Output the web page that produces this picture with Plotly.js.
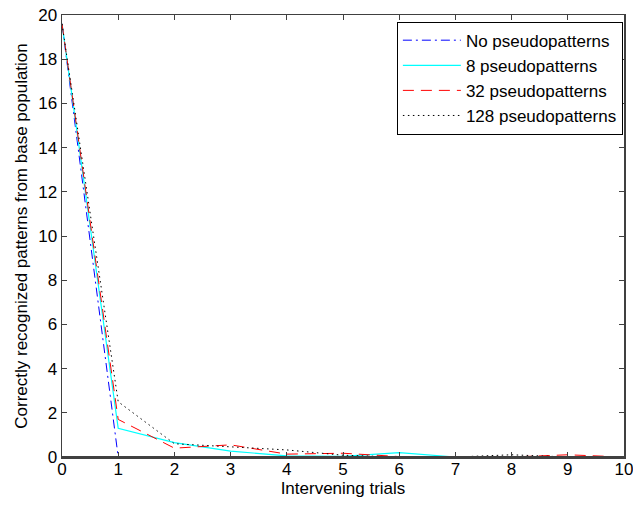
<!DOCTYPE html>
<html>
<head>
<meta charset="utf-8">
<script src="https://cdn.plot.ly/plotly-3.0.1.min.js"></script>
<style>html,body{margin:0;padding:0;background:#fff;}#chart{width:633px;height:508px;}</style>
</head>
<body>
<div id="chart"></div>
<script>
// Intervening trials
var trials = [0, 1, 2, 3, 4, 5, 6, 7, 8, 9, 10];
// Correctly recognized patterns from base population
var noPseudo = [19.6, 0, 0, 0, 0, 0, 0, 0, 0, 0, 0];
var pseudo8 = [19.6, 1.3, 0.65, 0.27, 0.05, 0.03, 0.2, 0, 0, 0, 0];
var pseudo32 = [19.6, 1.7, 0.4, 0.55, 0.13, 0.17, 0.02, 0, 0, 0.1, 0];
var pseudo128 = [19.6, 2.5, 0.6, 0.45, 0.32, 0.08, 0, 0, 0.1, 0, 0];
var seriesNames = ['No pseudopatterns', '8 pseudopatterns', '32 pseudopatterns', '128 pseudopatterns'];
var xTicks = [0, 1, 2, 3, 4, 5, 6, 7, 8, 9, 10];
var yTicks = [0, 2, 4, 6, 8, 10, 12, 14, 16, 18, 20];

var FONT = 'Liberation Sans Narrow, Arial Narrow, Liberation Sans, Arial, sans-serif';
var AXIS_COLOR = '#404040';

var traces = [
  {x: trials, y: noPseudo, name: seriesNames[0], mode: 'lines',
   line: {color: '#0000ff', width: 1, dash: '9px,4px,2px,4px'}},
  {x: trials, y: pseudo8, name: seriesNames[1], mode: 'lines',
   line: {color: '#00ffff', width: 1.2}},
  {x: trials, y: pseudo32, name: seriesNames[2], mode: 'lines',
   line: {color: '#ff0000', width: 1, dash: '11px,7px'}},
  {x: trials, y: pseudo128, name: seriesNames[3], mode: 'lines',
   line: {color: '#000000', width: 1, dash: '1.5px,3.5px'}}
];

var axisCommon = {
  showline: true, mirror: 'ticks', linecolor: AXIS_COLOR, linewidth: 1.5,
  ticks: 'inside', ticklen: 5, tickcolor: AXIS_COLOR, tickwidth: 1,
  showgrid: false, zeroline: false, layer: 'above traces',
  ticklabeloverflow: 'allow',
  tickfont: {family: FONT, size: 17, color: '#000'}
};

var layout = {
  width: 633, height: 508,
  margin: {l: 62, r: 9, t: 15, b: 51},
  paper_bgcolor: '#fff', plot_bgcolor: '#fff',
  font: {family: FONT, size: 17, color: '#000'},
  xaxis: Object.assign({}, axisCommon, {
    range: [0, 10], tickvals: xTicks, ticktext: xTicks.map(String),
    ticklabelstandoff: -4,
    title: {text: 'Intervening trials', font: {family: FONT, size: 17}, standoff: 0}
  }),
  yaxis: Object.assign({}, axisCommon, {
    range: [0, 20], tickvals: yTicks, ticktext: yTicks.map(String),
    title: {text: 'Correctly recognized patterns from base population', font: {family: FONT, size: 17}, standoff: 6}
  }),
  // bottom axis edge drawn above the traces, as in the reference (lines at zero hide under it)
  shapes: [{
    type: 'line', xref: 'paper', yref: 'paper', x0: 0, x1: 1, y0: 0, y1: 0,
    layer: 'above', line: {color: AXIS_COLOR, width: 2}
  }],
  showlegend: true,
  legend: {
    x: 0.998, y: 0.985, xanchor: 'right', yanchor: 'top',
    bgcolor: '#fff', bordercolor: '#000', borderwidth: 1,
    font: {family: FONT, size: 17, color: '#000'},
    itemwidth: 58, tracegroupgap: 0
  }
};

Plotly.newPlot('chart', traces, layout, {staticPlot: true, displayModeBar: false});
</script>
</body>
</html>
